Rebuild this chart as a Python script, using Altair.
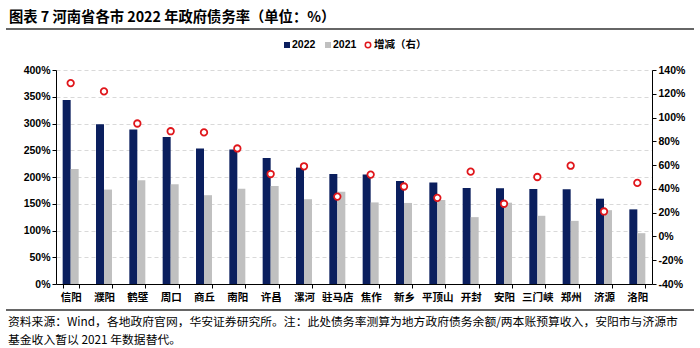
import altair as alt
import pandas as pd

cities = ["信阳", "濮阳", "鹤壁", "周口", "商丘", "南阳", "许昌", "漯河", "驻马店",
          "焦作", "新乡", "平顶山", "开封", "安阳", "三门峡", "郑州", "济源", "洛阳"]
rate_2022 = [344, 298.5, 289, 275, 253.5, 251.5, 235.5, 217.5, 205.5,
             204.5, 192.5, 189.5, 179.5, 179, 177.5, 177, 159.5, 139.5]
rate_2021 = [215, 176.5, 194, 186.5, 166, 178, 183, 158.5, 172.5,
             152.5, 151.5, 157, 125, 152, 127.5, 118, 138, 95]
change = [129, 122, 95, 88.5, 87.5, 74, 52.5, 59, 33.5,
          52, 42, 32.5, 54.5, 27.5, 50, 59.5, 21, 45]

title_text = "图表 7 河南省各市 2022 年政府债务率（单位：%）"
source_1 = "资料来源：Wind，各地政府官网，华安证券研究所。注：此处债务率测算为地方政府债务余额/两本账预算收入，安阳市与济源市"
source_2 = "基金收入暂以 2021 年数据替代。"

NAVY = "#0b1f5e"
GREY = "#c0c0c0"
RED = "#e0161b"
CJK = "Noto Sans CJK SC"
LAT = "Liberation Sans"

rows = []
for c, a, b in zip(cities, rate_2022, rate_2021):
    rows.append({"city": c, "series": "2022", "rate": a})
    rows.append({"city": c, "series": "2021", "rate": b})
bars_df = pd.DataFrame(rows)
pts_df = pd.DataFrame({"city": cities, "change": change})

xenc = alt.X("city:N", sort=cities, title=None,
             scale=alt.Scale(paddingInner=0.52),
             axis=alt.Axis(labelAngle=0, tickBand="extent", labelFont=CJK,
                           labelFontWeight="bold", labelFontSize=10.5, labelColor="#000",
                           domainColor="#000", tickColor="#000", tickSize=4,
                           labelPadding=4, grid=False))

bars = alt.Chart(bars_df).mark_bar().encode(
    x=xenc,
    xOffset=alt.XOffset("series:N", sort=["2022", "2021"], scale=alt.Scale(paddingInner=0)),
    y=alt.Y("rate:Q", title=None, scale=alt.Scale(domain=[0, 400], nice=False),
            axis=alt.Axis(values=list(range(0, 401, 50)), labelExpr="datum.value + '%'",
                          labelFont=LAT, labelFontWeight="bold", labelFontSize=10.5,
                          labelColor="#000", domainColor="#000", tickColor="#000",
                          tickSize=4, grid=True, gridDash=[4, 3], gridColor="#d9d9d9")),
    color=alt.Color("series:N", scale=alt.Scale(domain=["2022", "2021"], range=[NAVY, GREY]),
                    legend=None),
)

pts = alt.Chart(pts_df).mark_point(shape="circle", filled=False, fill="white", fillOpacity=1,
                                   stroke=RED, strokeWidth=1.8, size=42, opacity=1).encode(
    x=alt.X("city:N", sort=cities),
    y=alt.Y("change:Q", title=None, scale=alt.Scale(domain=[-40, 140], nice=False),
            axis=alt.Axis(orient="right", values=list(range(-40, 141, 20)),
                          labelExpr="datum.value + '%'", labelFont=LAT, labelFontWeight="bold",
                          labelFontSize=10.5, labelColor="#000", domainColor="#000",
                          tickColor="#000", tickSize=4, grid=False)),
)

def txt(t, x, y, size, weight="normal", font=CJK, align="left", color="#000"):
    return alt.Chart(pd.DataFrame({"t": [t]})).mark_text(
        align=align, baseline="middle", fontSize=size, fontWeight=weight, font=font, color=color
    ).encode(x=alt.value(x), y=alt.value(y), text="t:N")

def rule(x1, x2, y, color, w):
    return alt.Chart(pd.DataFrame({"a": [0]})).mark_rule(color=color, strokeWidth=w).encode(
        x=alt.value(x1), x2=alt.value(x2), y=alt.value(y))

ox, oy = 56, 70
title = txt(title_text, 9 - ox, 18 - oy, 14.3, "bold")
title_rule = rule(6 - ox, 694 - ox, 29 - oy, "#333333", 1.5)

leg_sq1 = alt.Chart(pd.DataFrame({"a": [0]})).mark_square(size=36, color=NAVY, opacity=1).encode(
    x=alt.value(287 - ox), y=alt.value(45 - oy))
leg_t1 = txt("2022", 292 - ox, 45 - oy, 10.5, "bold", LAT)
leg_sq2 = alt.Chart(pd.DataFrame({"a": [0]})).mark_square(size=36, color=GREY, opacity=1).encode(
    x=alt.value(328 - ox), y=alt.value(45 - oy))
leg_t2 = txt("2021", 333 - ox, 45 - oy, 10.5, "bold", LAT)
leg_c = alt.Chart(pd.DataFrame({"a": [0]})).mark_point(shape="circle", filled=False, stroke=RED,
                                                       strokeWidth=1.5, size=30, opacity=1).encode(
    x=alt.value(368 - ox), y=alt.value(45 - oy))
leg_t3 = txt("增减（右）", 374 - ox, 45 - oy, 10.5, "bold")

foot_rule = rule(6 - ox, 694 - ox, 310 - oy, "#333333", 1.5)
foot1 = txt(source_1, 8 - ox, 322 - oy, 11.8)
foot2 = txt(source_2, 8 - ox, 340 - oy, 11.8)

chart = alt.layer(
    bars, pts, title, title_rule, leg_sq1, leg_t1, leg_sq2, leg_t2, leg_c, leg_t3,
    foot_rule, foot1, foot2
).resolve_scale(y="independent").properties(
    width=596, height=214,
    autosize=alt.AutoSizeParams(type="none"),
    padding={"left": 56, "top": 70, "right": 48, "bottom": 64},
    background="white",
).configure_view(stroke=None)

chart.save("out.html", embed_options={"renderer": "svg", "actions": False})
